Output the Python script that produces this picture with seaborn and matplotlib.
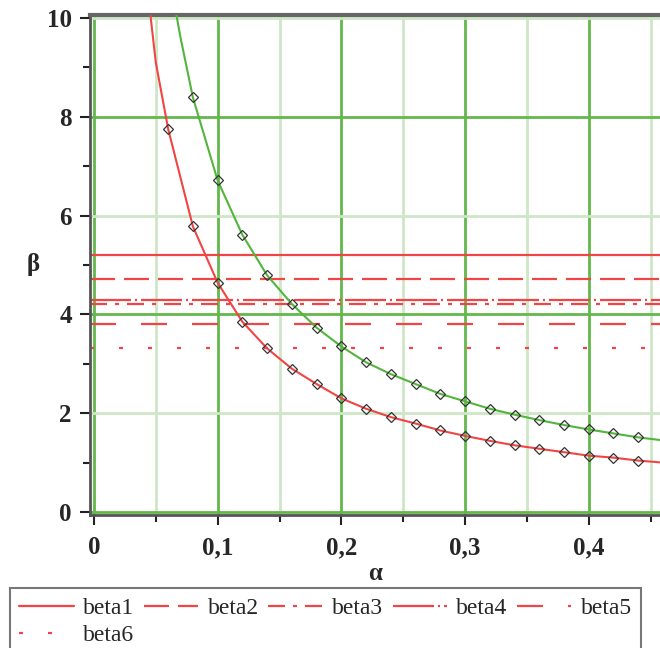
"""Maple-style beta(alpha) curves with reference levels beta1..beta6."""

import numpy as np
import pandas as pd
import matplotlib
matplotlib.use("Agg")
import matplotlib.pyplot as plt
import seaborn as sns
from matplotlib.ticker import MultipleLocator, FixedLocator, FuncFormatter

# --- data --------------------------------------------------------------------
alpha_marks_red = [0.06, 0.08, 0.10, 0.12, 0.14, 0.16, 0.18, 0.20, 0.22, 0.24,
                   0.26, 0.28, 0.30, 0.32, 0.34, 0.36, 0.38, 0.40, 0.42, 0.44]
beta_marks_red = [7.75, 5.78, 4.64, 3.85, 3.31, 2.90, 2.59, 2.30, 2.09, 1.92,
                  1.79, 1.65, 1.54, 1.44, 1.35, 1.28, 1.21, 1.14, 1.10, 1.04]

alpha_marks_green = [0.08, 0.10, 0.12, 0.14, 0.16, 0.18, 0.20, 0.22, 0.24, 0.26,
                     0.28, 0.30, 0.32, 0.34, 0.36, 0.38, 0.40, 0.42, 0.44]
beta_marks_green = [8.39, 6.71, 5.61, 4.79, 4.21, 3.73, 3.35, 3.03, 2.79, 2.59,
                    2.39, 2.24, 2.09, 1.97, 1.86, 1.76, 1.67, 1.59, 1.51]

# curve ends beyond the marked points
red_head_alpha, red_head_beta = [0.045, 0.050], [10.2, 9.1]
red_tail_alpha, red_tail_beta = [0.46], [1.00]
green_head_alpha, green_head_beta = [0.066, 0.070], [10.15, 9.6]
green_tail_alpha, green_tail_beta = [0.46], [1.45]

level_names = ["beta1", "beta2", "beta3", "beta4", "beta5", "beta6"]
level_values = [5.20, 4.72, 4.20, 4.30, 3.80, 3.31]

# --- styling -------------------------------------------------------------------
RED = "#f24444"
GREEN_CURVE = "#52b53c"
GRID_DARK = "#62b84a"
GRID_LIGHT = "#cde7c6"
FRAME = "#555555"
PX = 0.72  # points per pixel at dpi 100

level_dashes = [
    "-",
    (0, (25 * PX, 9 * PX)),
    (0, (17 * PX, 8 * PX, 4 * PX, 8 * PX)),
    (0, (41 * PX, 4 * PX, 2 * PX, 4 * PX)),
    (0, (26 * PX, 25 * PX)),
    (0, (4 * PX, 25 * PX)),
]

sns.set_style("white")
plt.rcParams["font.family"] = ["Liberation Serif", "DejaVu Serif"]
plt.rcParams["lines.scale_dashes"] = False

fig = plt.figure(figsize=(6.6, 6.48), dpi=100)
ax = fig.add_axes([90 / 660, 1 - 515 / 648, 570 / 660, 500.5 / 648])

# grid (Maple style: dark at 0.1 / every 4, light in between)
for xv in [0.0, 0.1, 0.2, 0.3, 0.4]:
    ax.axvline(xv, color=GRID_DARK, lw=2.0, zorder=0)
for xv in [0.05, 0.15, 0.25, 0.35, 0.45]:
    ax.axvline(xv, color=GRID_LIGHT, lw=2.0, zorder=0)
for yv in [0, 4, 8]:
    ax.axhline(yv, color=GRID_DARK, lw=2.0, zorder=0)
for yv in [2, 6, 10]:
    ax.axhline(yv, color=GRID_LIGHT, lw=2.0, zorder=0)

# reference levels
for name, val, ls in zip(level_names, level_values, level_dashes):
    ax.axhline(val, color=RED, lw=1.6, linestyle=ls, label=name, zorder=2)

# curves
red_line = pd.DataFrame({
    "alpha": red_head_alpha + alpha_marks_red + red_tail_alpha,
    "beta": red_head_beta + beta_marks_red + red_tail_beta,
})
green_line = pd.DataFrame({
    "alpha": green_head_alpha + alpha_marks_green + green_tail_alpha,
    "beta": green_head_beta + beta_marks_green + green_tail_beta,
})
sns.lineplot(data=red_line, x="alpha", y="beta", ax=ax, color=RED, lw=1.5,
             sort=False, zorder=3, legend=False)
sns.lineplot(data=green_line, x="alpha", y="beta", ax=ax, color=GREEN_CURVE,
             lw=1.5, sort=False, zorder=3, legend=False)

for xs, ys in [(alpha_marks_red, beta_marks_red), (alpha_marks_green, beta_marks_green)]:
    ax.plot(xs, ys, linestyle="none", marker="D", markersize=4.8,
            markerfacecolor="none", markeredgecolor="#333333",
            markeredgewidth=0.9, zorder=4)

# axes
ax.set_xlim(-0.0032, 0.4576)
ax.set_ylim(-0.061, 10.07)
ax.xaxis.set_major_locator(MultipleLocator(0.1))
ax.xaxis.set_minor_locator(FixedLocator([0.05, 0.15, 0.25, 0.35, 0.45]))
ax.yaxis.set_major_locator(MultipleLocator(2))
ax.yaxis.set_minor_locator(FixedLocator([1, 3, 5, 7, 9]))
ax.xaxis.set_major_formatter(FuncFormatter(lambda v, p: f"{v:g}".replace(".", ",")))
ax.yaxis.set_major_formatter(FuncFormatter(lambda v, p: f"{v:g}"))
ax.tick_params(which="major", direction="out", length=7, width=1.5,
               color="#222222", labelsize=18, pad=6,
               bottom=True, left=True)
ax.tick_params(which="minor", direction="out", length=5, width=1.5,
               color="#222222", bottom=True, left=True)
ax.tick_params(axis="x", which="major", pad=8)
for lab in ax.get_xticklabels() + ax.get_yticklabels():
    lab.set_fontweight("bold")

for side in ["left", "bottom"]:
    ax.spines[side].set_color(FRAME)
    ax.spines[side].set_linewidth(2.0)
ax.spines["top"].set_color("#666666")
ax.spines["top"].set_linewidth(3.0)
ax.spines["right"].set_visible(False)

ax.set_xlabel("α", fontsize=18, fontweight="bold", labelpad=2)
ax.set_ylabel("β", fontsize=18, fontweight="bold", rotation=0, labelpad=10,
              va="center")

# legend fills column-wise; order so that row 1 is beta1..beta5, row 2 beta6
handles, labels = ax.get_legend_handles_labels()
order = [0, 5, 1, 2, 3, 4]
leg = fig.legend([handles[i] for i in order], [labels[i] for i in order],
                 loc="upper left",
                 bbox_to_anchor=(10 / 660, 1 - 588 / 648), ncol=5,
                 fontsize=17, handlelength=2.3, handletextpad=0.4,
                 columnspacing=0.4, borderpad=0.4, labelspacing=0.25,
                 borderaxespad=0, frameon=True, fancybox=False)
leg.get_frame().set_edgecolor(FRAME)
leg.get_frame().set_linewidth(1.5)

fig.savefig("out.png", dpi=100)
